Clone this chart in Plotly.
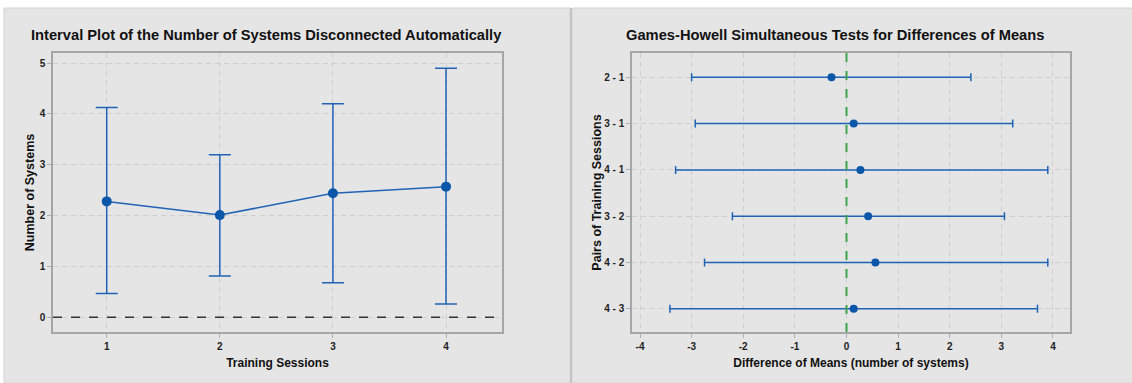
import plotly.graph_objects as go

# Interval plot data: mean and 95% CI per training session
sessions = [1, 2, 3, 4]
session_means = [2.28, 2.01, 2.44, 2.57]
session_upper = [4.13, 3.20, 4.20, 4.90]
session_lower = [0.47, 0.81, 0.68, 0.26]

# Games-Howell pairwise differences with simultaneous CIs
pairs = ["2 - 1", "3 - 1", "4 - 1", "3 - 2", "4 - 2", "4 - 3"]
diff_means = [-0.29, 0.14, 0.27, 0.42, 0.56, 0.14]
diff_upper = [2.41, 3.22, 3.90, 3.06, 3.90, 3.70]
diff_lower = [-3.00, -2.93, -3.31, -2.21, -2.75, -3.42]

y_ticks = [0, 1, 2, 3, 4, 5]
x_ticks = [-4, -3, -2, -1, 0, 1, 2, 3, 4]
x_tick_text = ["-4", "-3", "-2", "-1", "0", "1", "2", "3", "4"]

W, H = 1132, 383
BLUE = "#1f63b4"
DOT = "#0a56a8"
FONT = "Liberation Sans, Arial, sans-serif"
GRID = "#cfcfcf"

fig = go.Figure()

fig.add_trace(go.Scatter(
    x=sessions, y=session_means, mode="lines+markers",
    line=dict(color=BLUE, width=1.5),
    marker=dict(color=DOT, size=10),
    error_y=dict(type="data", symmetric=False,
                 array=[u - m for u, m in zip(session_upper, session_means)],
                 arrayminus=[m - l for m, l in zip(session_means, session_lower)],
                 color=BLUE, thickness=1.5, width=11),
    xaxis="x", yaxis="y", showlegend=False,
))

pair_pos = list(range(len(pairs)))
fig.add_trace(go.Scatter(
    x=diff_means, y=pair_pos, mode="markers",
    marker=dict(color=DOT, size=8),
    error_x=dict(type="data", symmetric=False,
                 array=[u - m for u, m in zip(diff_upper, diff_means)],
                 arrayminus=[m - l for m, l in zip(diff_means, diff_lower)],
                 color=BLUE, thickness=1.5, width=4),
    xaxis="x2", yaxis="y2", showlegend=False,
))

def px_x(v):
    return v / W

def px_y(v):
    return 1 - v / H

axis_common = dict(
    showline=True, linecolor="#a6a6a6", linewidth=1.5, mirror=True,
    showgrid=True, gridcolor=GRID, griddash="5px,4px", gridwidth=1,
    zeroline=False, ticks="outside", ticklen=4, tickcolor="#b0b0b0",
    tickfont=dict(family=FONT, size=10, color="#222222", weight="bold"),
)
x_title_font = dict(family=FONT, size=12, color="#111111", weight="bold")
y_title_font = dict(family=FONT, size=12.5, color="#111111", weight="bold")

fig.update_layout(
    width=W, height=H,
    margin=dict(l=0, r=0, t=0, b=0),
    paper_bgcolor="white", plot_bgcolor="white",
    xaxis=dict(domain=[px_x(53), px_x(502)], range=[0.525, 4.495],
               tickvals=sessions, anchor="y",
               title=dict(text="Training Sessions", standoff=8, font=x_title_font),
               **axis_common),
    yaxis=dict(domain=[px_y(332), px_y(53)], range=[-0.29, 5.2],
               tickvals=y_ticks, anchor="x",
               title=dict(text="Number of Systems", standoff=2, font=y_title_font),
               **axis_common),
    xaxis2=dict(domain=[px_x(632), px_x(1070)], range=[-4.155, 4.33],
                tickvals=x_ticks, ticktext=x_tick_text, anchor="y2",
                title=dict(text="Difference of Means (number of systems)", standoff=8,
                           font=x_title_font),
                **axis_common),
    yaxis2=dict(domain=[px_y(332), px_y(53)], range=[5.5, -0.525],
                tickvals=pair_pos, ticktext=pairs, anchor="x2",
                title=dict(text="Pairs of Training Sessions", standoff=0,
                           font=y_title_font),
                **axis_common),
    shapes=[
        # panel backgrounds
        dict(type="rect", xref="paper", yref="paper", layer="below",
             x0=px_x(4), x1=px_x(570), y0=0, y1=px_y(8),
             fillcolor="#e5e5e5", line=dict(color="#d2d2d2", width=1)),
        dict(type="rect", xref="paper", yref="paper", layer="below",
             x0=px_x(572), x1=1.01, y0=0, y1=px_y(8),
             fillcolor="#e5e5e5", line=dict(color="#d2d2d2", width=1)),
        dict(type="line", xref="paper", yref="paper", layer="below",
             x0=px_x(571), x1=px_x(571), y0=0, y1=px_y(8),
             line=dict(color="#c4c4c4", width=2)),
        # reference lines
        dict(type="line", xref="x domain", yref="y", x0=0, x1=1, y0=0, y1=0,
             line=dict(color="#333333", width=1.5, dash="dash")),
        dict(type="line", xref="x2", yref="y2 domain", x0=0, x1=0, y0=0, y1=1,
             line=dict(color="#3fa34d", width=2, dash="dash")),
    ],
    annotations=[
        dict(text="Interval Plot of the Number of Systems Disconnected Automatically",
             xref="paper", yref="paper", x=px_x(266), y=px_y(35),
             xanchor="center", yanchor="middle", showarrow=False,
             font=dict(family=FONT, size=14.7, color="#111111", weight="bold")),
        dict(text="Games-Howell Simultaneous Tests for Differences of Means",
             xref="paper", yref="paper", x=px_x(835), y=px_y(35),
             xanchor="center", yanchor="middle", showarrow=False,
             font=dict(family=FONT, size=14.7, color="#111111", weight="bold")),
    ],
)

fig.write_html("out.html")
